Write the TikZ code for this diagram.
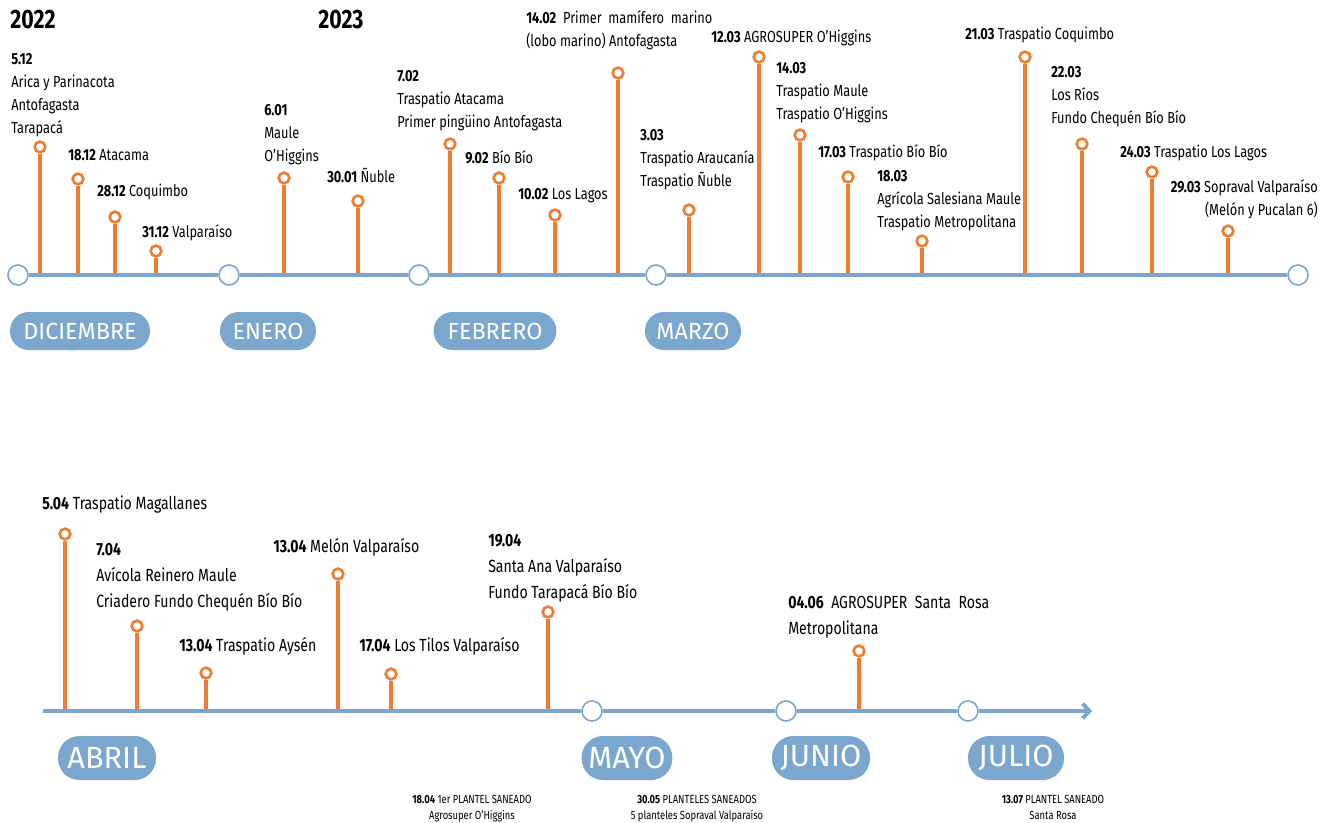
\documentclass[tikz,border=0pt]{standalone}
\usepackage{fontspec}
\setmainfont{Fira Sans}[FakeStretch=0.8]
\newfontfamily\pillfont{Fira Sans}
\usetikzlibrary{arrows.meta}
\definecolor{naranjo}{HTML}{ED7D31}
\definecolor{celeste}{HTML}{7BA7CF}

\begin{document}
\begin{tikzpicture}[x=0.75pt,y=-0.75pt,
		eje/.style={draw=celeste,line width=3pt},
		mes/.style={circle,draw=celeste,fill=white,line width=1.2pt,minimum size=15pt,inner sep=0pt},
		hito/.style={circle,draw=naranjo,fill=white,line width=2pt,minimum size=8pt,inner sep=0pt},
		palo/.style={draw=naranjo,line width=2.3pt},
		txt/.style={anchor=base west,align=left,inner sep=0pt,font=\fontsize{12}{17.25}\selectfont},
		txtb/.style={txt,font=\fontsize{13.2}{19.5}\selectfont},
		pill/.style={fill=celeste,text=white,rounded corners=14pt,minimum height=28.5pt,inner sep=0pt,font=\pillfont\fontsize{17.5}{17.5}\selectfont},
		pillb/.style={pill,rounded corners=16pt,minimum height=33pt,font=\pillfont\fontsize{23}{23}\selectfont},
		nota/.style={anchor=base,align=center,inner sep=0pt,font=\fontsize{8.8}{12}\selectfont}]
		\useasboundingbox (0,0) rectangle (1333,823);
		\node[txt,font=\fontsize{20}{20}\bfseries] (y22) at (10,29) {2022};
		\node[txt,font=\fontsize{20}{20}\bfseries] (y23) at (318,29) {2023};
		\node[mes] (m1) at (18,275) {};
		\node[mes] (m2) at (229,275) {};
		\node[mes] (m3) at (419,275) {};
		\node[mes] (m4) at (656,275) {};
		\node[mes] (m5) at (1298,275) {};
		\foreach \x/\y [count=\i] in {40/147,78/179,115/217,156/251,284/178,358/201,450/144,499/178,555/215,618/73,689/210,759/57,800/135,848/177,922/241,1025/57,1082/144,1152/172,1228/231}
		{\node[hito] (t\i) at (\x,\y) {};
			\draw[palo] (t\i) -- (t\i |- m1);}
		\draw[eje] (m1) -- (m2) -- (m3) -- (m4) -- (m5);
		\node[pill,minimum width=105pt] (dic) at (80,331) {DICIEMBRE};
		\node[pill,minimum width=72pt] (ene) at (268,331) {ENERO};
		\node[pill,minimum width=92pt] (feb) at (495,331) {FEBRERO};
		\node[pill,minimum width=72pt] (mar) at (693,331) {MARZO};
		\node[txt] (l512) at (11,134) {\textbf{5.12}\\Arica y Parinacota\\Antofagasta\\Tarapacá};
		\node[txt] (l1812) at (68,161) {\textbf{18.12} Atacama};
		\node[txt] (l2812) at (97,197) {\textbf{28.12} Coquimbo};
		\node[txt] (l3112) at (142,238) {\textbf{31.12} Valparaíso};
		\node[txt] (l601) at (264,162) {\textbf{6.01}\\Maule\\O'Higgins};
		\node[txt] (l3001) at (327,183) {\textbf{30.01} Ñuble};
		\node[txt] (l702) at (397,128) {\textbf{7.02}\\Traspatio Atacama\\Primer pingüino Antofagasta};
		\node[txt] (l902) at (465,164) {\textbf{9.02} Bío Bío};
		\node[txt] (l1002) at (518,200) {\textbf{10.02} Los Lagos};
		\node[txt] (l1402) at (526,47) {\textbf{14.02}\ \ Primer\ \ mamífero\ \ marino\\(lobo marino) Antofagasta};
		\node[txt] (l303) at (640,187) {\textbf{3.03}\\Traspatio Araucanía\\Traspatio Ñuble};
		\node[txt] (l1203) at (711,43) {\textbf{12.03} AGROSUPER O'Higgins};
		\node[txt] (l1403) at (776,120) {\textbf{14.03}\\Traspatio Maule\\Traspatio O'Higgins};
		\node[txt] (l1703) at (818,158) {\textbf{17.03} Traspatio Bío Bío};
		\node[txt] (l1803) at (877,228) {\textbf{18.03}\\Agrícola Salesiana Maule\\Traspatio Metropolitana};
		\node[txt] (l2103) at (965,40) {\textbf{21.03} Traspatio Coquimbo};
		\node[txt] (l2203) at (1051,124) {\textbf{22.03}\\Los Ríos\\Fundo Chequén Bío Bío};
		\node[txt] (l2403) at (1120,158) {\textbf{24.03} Traspatio Los Lagos};
		\node[txt,anchor=base east,align=right] (l2903) at (1318,216) {\textbf{29.03} Sopraval Valparaíso\\(Melón y Pucalan 6)};
		\coordinate (ini) at (43,711);
		\coordinate (fin) at (1092,711);
		\node[mes] (n1) at (592,711) {};
		\node[mes] (n2) at (786,711) {};
		\node[mes] (n3) at (968,711) {};
		\foreach \x/\y [count=\i] in {65/534,137/626,206/673,338/574,391/674,548/612,859/651}
		{\node[hito] (b\i) at (\x,\y) {};
			\draw[palo] (b\i) -- (b\i |- ini);}
		\draw[eje] (ini) -- (n1) -- (n2) -- (n3);
		\draw[eje,-{Straight Barb[length=5pt,width=11pt]}] (n3) -- (fin);
		\node[pillb,minimum width=73.5pt] (abr) at (107,758) {ABRIL};
		\node[pillb,minimum width=68pt] (may) at (627,758) {MAYO};
		\node[pillb,minimum width=73.5pt] (jun) at (821,758) {JUNIO};
		\node[pillb,minimum width=72pt] (jul) at (1016,758) {JULIO};
		\node[txtb] (l504) at (42,509) {\textbf{5.04} Traspatio Magallanes};
		\node[txtb] (l704) at (96,607) {\textbf{7.04}\\Avícola Reinero Maule\\Criadero Fundo Chequén Bío Bío};
		\node[txtb] (l1304a) at (179,651) {\textbf{13.04} Traspatio Aysén};
		\node[txtb] (l1304b) at (273,552) {\textbf{13.04} Melón Valparaíso};
		\node[txtb] (l1704) at (359,651) {\textbf{17.04} Los Tilos Valparaíso};
		\node[txtb] (l1904) at (488,598) {\textbf{19.04}\\Santa Ana Valparaíso\\Fundo Tarapacá Bío Bío};
		\node[txtb] (l0406) at (788,634) {\textbf{04.06}\ \ AGROSUPER\ \ Santa\ \ Rosa\\Metropolitana};
		\node[nota] (f1) at (472,819) {\textbf{18.04} 1er PLANTEL SANEADO\\Agrosuper O'Higgins};
		\node[nota] (f2) at (697,819) {\textbf{30.05} PLANTELES SANEADOS\\5 planteles Sopraval Valparaíso};
		\node[nota] (f3) at (1053,819) {\textbf{13.07} PLANTEL SANEADO\\Santa Rosa};
	\end{tikzpicture}
\end{document}
